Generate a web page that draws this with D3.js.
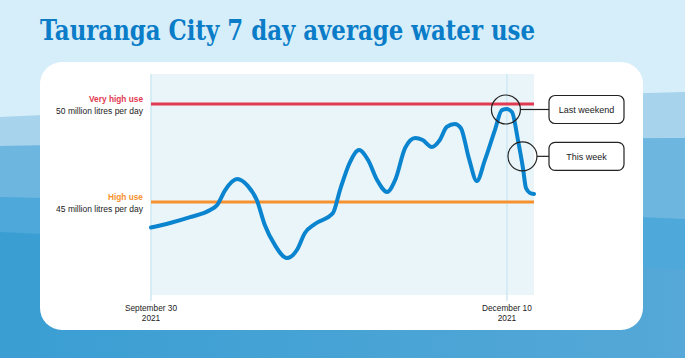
<!DOCTYPE html>
<html><head><meta charset="utf-8">
<script src="https://cdn.jsdelivr.net/npm/d3@7"></script>
<style>html,body{margin:0;padding:0;background:#d6eef9;}svg{display:block;}</style>
</head><body>
<svg id="c" width="685" height="358"></svg>
<script>
// Days since September 30, 2021
const days = [0,3.8,7.8,11.8,13.2,14.8,17.2,19.3,21.1,22.7,24.7,27.1,29.1,30.7,32.7,36.3,37.7,39.7,41.5,43.3,45.1,47.1,48.7,50.7,52.7,54.2,56.0,57.6,59.0,60.6,61.8,63.4,65.0,66.6,68.6,70.0,71.0,72.0,73.2,74.2,74.8,75.6,76.4];
// 7 day average water use, million litres per day
const usage = [43.70,43.93,44.23,44.59,44.85,45.61,46.17,45.82,45.10,43.83,42.81,42.14,42.55,43.42,43.88,44.44,45.61,47.04,47.65,47.14,46.12,45.51,46.12,47.76,48.27,48.16,47.81,48.16,48.83,48.98,48.78,47.24,46.07,47.14,48.67,49.69,49.74,49.59,48.16,46.73,45.71,45.46,45.41];
const thresholdValues = [50,45];
const thresholdNames = ["Very high use","High use"];
const thresholdLabels = ["50 million litres per day","45 million litres per day"];
const tickDays = [0,71];
const tickLabels = [["September 30","2021"],["December 10","2021"]];
const noteDays = [70.8,74.1];
const noteValues = [49.72,47.33];
const noteTexts = ["Last weekend","This week"];
const title = "Tauranga City 7 day average water use";

(function(){
const svg = d3.select("#c");
const W=685,H=358;

const defs = svg.append("defs");
const g1 = defs.append("linearGradient").attr("id","bot").attr("x1","0").attr("x2","1");
g1.append("stop").attr("offset","0").attr("stop-color","#3a9ed3");
g1.append("stop").attr("offset","1").attr("stop-color","#55a8d7");
svg.append("rect").attr("width",W).attr("height",H).attr("fill","#d6eef9");
const bands = [
  {l:117,r:92,c:"#a7d3ec"},
  {l:146,r:138,c:"#6db6e0"},
  {l:197,r:219,c:"#4ea8da"},
  {l:232,r:270,c:"url(#bot)"}
];
bands.forEach(b=>{
  svg.append("path").attr("fill",b.c)
    .attr("d",`M0,${b.l} Q${W/2},${(b.l+b.r)/2-4} ${W},${b.r} L${W},${H} L0,${H} Z`);
});

svg.append("text").attr("x",40).attr("y",40)
  .attr("font-family","'DejaVu Serif',serif").attr("font-weight","bold")
  .attr("font-size",27).attr("fill","#0a7cc8")
  .attr("textLength",495).attr("lengthAdjust","spacingAndGlyphs")
  .text(title);

svg.append("rect").attr("x",40).attr("y",62).attr("width",603).attr("height",268)
  .attr("rx",22).attr("fill","#fff");

const x = d3.scaleLinear().domain([0,76.4]).range([151,534]);
const y = d3.scaleLinear().domain([45,50]).range([202,104]);
const pTop=74,pBottom=295;

svg.append("rect").attr("x",x(0)).attr("y",pTop).attr("width",x(76.4)-x(0)).attr("height",pBottom-pTop)
  .attr("fill","#e9f5f9");

const font="'Liberation Sans',Arial,sans-serif";
tickDays.forEach((d,i)=>{
  svg.append("line").attr("x1",x(d)).attr("x2",x(d)).attr("y1",pTop).attr("y2",301)
    .attr("stroke","#cfe8f2").attr("stroke-width",1.5);
  tickLabels[i].forEach((t,j)=>{
    svg.append("text").attr("x",x(d)).attr("y",310.5+j*10).attr("text-anchor","middle")
      .attr("font-family",font).attr("font-size",8.3).attr("fill","#222").text(t);
  });
});

const thColors=["#e23a50","#f7912f"];
thresholdValues.forEach((v,i)=>{
  svg.append("line").attr("x1",x(0)).attr("x2",x(76.4)).attr("y1",y(v)).attr("y2",y(v))
    .attr("stroke",thColors[i]).attr("stroke-width",3);
  svg.append("text").attr("x",143).attr("y",y(v)-2.3).attr("text-anchor","end")
    .attr("font-family",font).attr("font-weight","bold").attr("font-size",8.3)
    .attr("fill",thColors[i]).text(thresholdNames[i]);
  svg.append("text").attr("x",143).attr("y",y(v)+10).attr("text-anchor","end")
    .attr("font-family",font).attr("font-size",8.5).attr("fill","#222").text(thresholdLabels[i]);
});

const pts = days.map((d,i)=>[d,usage[i]]);
svg.append("path").datum(pts)
  .attr("d",d3.line().x(d=>x(d[0])).y(d=>y(d[1])).curve(d3.curveMonotoneX))
  .attr("fill","none").attr("stroke","#0b84cf").attr("stroke-width",4)
  .attr("stroke-linecap","round").attr("stroke-linejoin","round");

const r=14.5, boxX=549, boxW=75, boxH=28;
noteDays.forEach((d,i)=>{
  const cx=x(d), cy=y(noteValues[i]);
  svg.append("circle").attr("cx",cx).attr("cy",cy).attr("r",r)
    .attr("fill","none").attr("stroke","#222").attr("stroke-width",1.2);
  svg.append("line").attr("x1",cx+r).attr("x2",boxX).attr("y1",cy).attr("y2",cy)
    .attr("stroke","#222").attr("stroke-width",1.2);
  svg.append("rect").attr("x",boxX).attr("y",cy-boxH/2).attr("width",boxW).attr("height",boxH)
    .attr("rx",6).attr("fill","#fff").attr("stroke","#222").attr("stroke-width",1.2);
  svg.append("text").attr("x",boxX+boxW/2).attr("y",cy+3.2).attr("text-anchor","middle")
    .attr("font-family",font).attr("font-size",9).attr("fill","#222").text(noteTexts[i]);
});
})();
</script>
</body></html>
